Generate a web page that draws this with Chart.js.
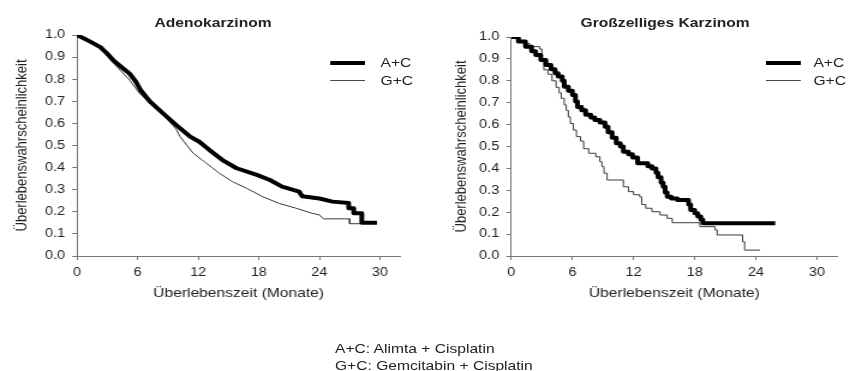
<!DOCTYPE html>
<html>
<head>
<meta charset="utf-8">
<script src="https://cdn.jsdelivr.net/npm/chart.js@4.4.1/dist/chart.umd.min.js"></script>
<style>
    body { margin: 0; background: #fff; overflow: hidden; }
    #stage {
        position: absolute; left: 0; top: 0; width: 713px; height: 371px;
        transform: scaleX(1.2006); transform-origin: 0 0;
        font-family: "Liberation Sans", Arial, sans-serif; color: #222;
    }
    .plot { position: absolute; top: 0; }
    .title { position: absolute; top: 15px; font-weight: bold; font-size: 13px; line-height: 16px; white-space: nowrap; transform: translateX(-50%); }
    .leg { position: absolute; font-size: 13px; line-height: 16px; }
    .swatch { position: absolute; width: 29px; }
    .note { position: absolute; left: 279px; top: 340px; font-size: 13px; line-height: 17px; white-space: nowrap; }
</style>
</head>
<body>
<div id="stage">
    <div class="plot" style="left:0"><canvas id="adenoChart" width="358" height="306"></canvas></div>
    <div class="plot" style="left:358px"><canvas id="largeCellChart" width="355" height="306"></canvas></div>

    <div class="title" style="left:177.5px">Adenokarzinom</div>
    <div class="title" style="left:554px">Großzelliges Karzinom</div>

    <div class="swatch" style="left:275px; top:61px; height:4px; background:#000"></div>
    <div class="swatch" style="left:275px; top:80px; height:1px; background:#444"></div>
    <div class="leg" style="left:317px; top:55px">A+C</div>
    <div class="leg" style="left:317px; top:73px">G+C</div>

    <div class="swatch" style="left:637.5px; top:61px; height:4px; background:#000"></div>
    <div class="swatch" style="left:637.5px; top:80px; height:1px; background:#444"></div>
    <div class="leg" style="left:677.5px; top:55px">A+C</div>
    <div class="leg" style="left:677.5px; top:73px">G+C</div>

    <div class="note">A+C: Alimta + Cisplatin<br>G+C: Gemcitabin + Cisplatin</div>
</div>
<script>
const monthTicks = [0, 6, 12, 18, 24, 30];
const survivalTicks = [0, 0.1, 0.2, 0.3, 0.4, 0.5, 0.6, 0.7, 0.8, 0.9, 1.0];
const seriesNames = ['A+C', 'G+C'];

// Adenokarzinom (many small steps, read as a polyline)
const adenoMonthsAC = [0, 1.3, 2.3, 3.0, 3.6, 4.2, 5.2, 5.8, 6.3, 7.2, 8.5, 9.8, 11.2, 12.1, 13.1, 14.4, 15.8, 17.8, 19.1, 20.3, 22.0, 22.3, 24.0, 25.3, 26.9, 26.9, 27.4, 27.4, 28.2, 28.2, 29.7];
const adenoSurvAC   = [1.0, 0.97, 0.945, 0.915, 0.885, 0.862, 0.825, 0.79, 0.75, 0.70, 0.646, 0.593, 0.54, 0.517, 0.48, 0.434, 0.397, 0.367, 0.344, 0.314, 0.291, 0.27, 0.26, 0.246, 0.24, 0.216, 0.216, 0.193, 0.193, 0.151, 0.151];
const adenoMonthsGC = [0, 1.3, 2.3, 3.6, 5.2, 6.2, 7.2, 8.5, 9.8, 10.2, 11.5, 12.8, 14.1, 15.4, 16.8, 18.4, 20.0, 21.7, 23.3, 24.0, 24.4, 27.0, 27.0, 28.1];
const adenoSurvGC   = [1.0, 0.965, 0.94, 0.873, 0.796, 0.735, 0.695, 0.64, 0.575, 0.54, 0.465, 0.42, 0.374, 0.336, 0.306, 0.268, 0.238, 0.216, 0.193, 0.186, 0.168, 0.168, 0.146, 0.146];

// Großzelliges Karzinom (visible Kaplan-Meier steps)
const largeMonthsAC = [0, 0.7, 1.4, 2.0, 2.4, 2.9, 3.4, 3.9, 4.3, 4.6, 5.0, 5.2, 5.6, 6.0, 6.3, 6.5, 6.9, 7.3, 7.8, 8.2, 8.7, 9.2, 9.5, 9.9, 10.3, 10.7, 11.0, 11.5, 11.9, 12.4, 13.4, 13.8, 14.2, 14.4, 14.7, 14.9, 15.1, 15.3, 15.7, 16.3, 17.4, 17.6, 18.0, 18.3, 18.6, 18.8, 25.9];
const largeSurvAC   = [1.0, 0.98, 0.956, 0.935, 0.918, 0.895, 0.872, 0.853, 0.834, 0.82, 0.80, 0.773, 0.755, 0.735, 0.705, 0.68, 0.665, 0.645, 0.632, 0.621, 0.61, 0.59, 0.565, 0.54, 0.515, 0.50, 0.476, 0.465, 0.45, 0.423, 0.41, 0.40, 0.38, 0.36, 0.335, 0.316, 0.29, 0.271, 0.263, 0.256, 0.235, 0.21, 0.195, 0.18, 0.165, 0.149, 0.149];
const largeMonthsGC = [0, 0.6, 1.2, 1.8, 2.8, 3.0, 3.2, 3.6, 4.0, 4.4, 4.7, 4.9, 5.2, 5.4, 5.6, 5.8, 6.1, 6.4, 6.8, 7.1, 7.6, 8.3, 8.7, 8.9, 9.1, 9.4, 11.0, 11.5, 12.0, 12.6, 12.8, 13.2, 13.8, 14.6, 15.3, 15.8, 18.5, 20.0, 20.2, 22.7, 22.9, 24.4];
const largeSurvGC   = [1.0, 0.985, 0.97, 0.956, 0.945, 0.90, 0.85, 0.83, 0.80, 0.77, 0.745, 0.72, 0.69, 0.665, 0.635, 0.605, 0.575, 0.545, 0.525, 0.49, 0.469, 0.453, 0.43, 0.408, 0.378, 0.347, 0.316, 0.294, 0.28, 0.27, 0.235, 0.218, 0.202, 0.187, 0.172, 0.152, 0.134, 0.119, 0.096, 0.065, 0.027, 0.027];

Chart.defaults.font.family = '"Liberation Sans", Arial, sans-serif';
Chart.defaults.color = '#222';

function toPoints(months, surv) {
    return months.map((m, i) => ({ x: m, y: surv[i] }));
}

function makeChart(id, ac, gc, stepped, geo) {
    const ctx = document.getElementById(id).getContext('2d');
    return new Chart(ctx, {
        type: 'line',
        data: {
            datasets: [{
                label: seriesNames[0],
                data: ac,
                borderColor: '#000',
                borderWidth: 4,
                borderJoinStyle: 'round',
                pointRadius: 0,
                stepped: stepped,
                tension: 0,
                fill: false
            }, {
                label: seriesNames[1],
                data: gc,
                borderColor: '#3a3a3a',
                borderWidth: 1,
                pointRadius: 0,
                stepped: stepped,
                tension: 0,
                fill: false
            }]
        },
        options: {
            responsive: false,
            animation: false,
            layout: { padding: { left: 0, top: geo.top, right: geo.right, bottom: 0 } },
            plugins: {
                legend: { display: false },
                tooltip: { enabled: false }
            },
            scales: {
                x: {
                    type: 'linear',
                    min: 0,
                    max: 32,
                    afterBuildTicks: s => { s.ticks = monthTicks.map(v => ({ value: v })); },
                    afterFit: s => { s.height = 50; },
                    ticks: { padding: 5, autoSkip: false, maxRotation: 0, font: { size: 12 } },
                    grid: { drawOnChartArea: false, tickLength: 4, color: '#777' },
                    border: { color: '#777', width: 1 },
                    title: {
                        display: true,
                        text: 'Überlebenszeit (Monate)',
                        font: { size: 13 },
                        padding: { top: 0, bottom: 5 }
                    }
                },
                y: {
                    type: 'linear',
                    min: 0,
                    max: 1,
                    afterBuildTicks: s => { s.ticks = survivalTicks.map(v => ({ value: v })); },
                    afterFit: s => { s.width = geo.yWidth; },
                    ticks: { padding: 6, autoSkip: false, font: { size: 12 }, callback: v => v.toFixed(1) },
                    grid: { drawOnChartArea: false, tickLength: 4, color: '#777' },
                    border: { color: '#777', width: 1 },
                    title: {
                        display: true,
                        text: 'Überlebenswahrscheinlichkeit',
                        font: { size: 13 },
                        padding: { top: geo.titlePad, bottom: 0 }
                    }
                }
            }
        }
    });
}

document.addEventListener('DOMContentLoaded', () => {
    makeChart('adenoChart',
        toPoints(adenoMonthsAC, adenoSurvAC),
        toPoints(adenoMonthsGC, adenoSurvGC),
        false,
        { top: 35, right: 24.7, yWidth: 64.2, titlePad: 10.5 });
    makeChart('largeCellChart',
        toPoints(largeMonthsAC, largeSurvAC),
        toPoints(largeMonthsGC, largeSurvGC),
        'before',
        { top: 37, right: 15.5, yWidth: 67.8, titlePad: 18.4 });
});
</script>
</body>
</html>
